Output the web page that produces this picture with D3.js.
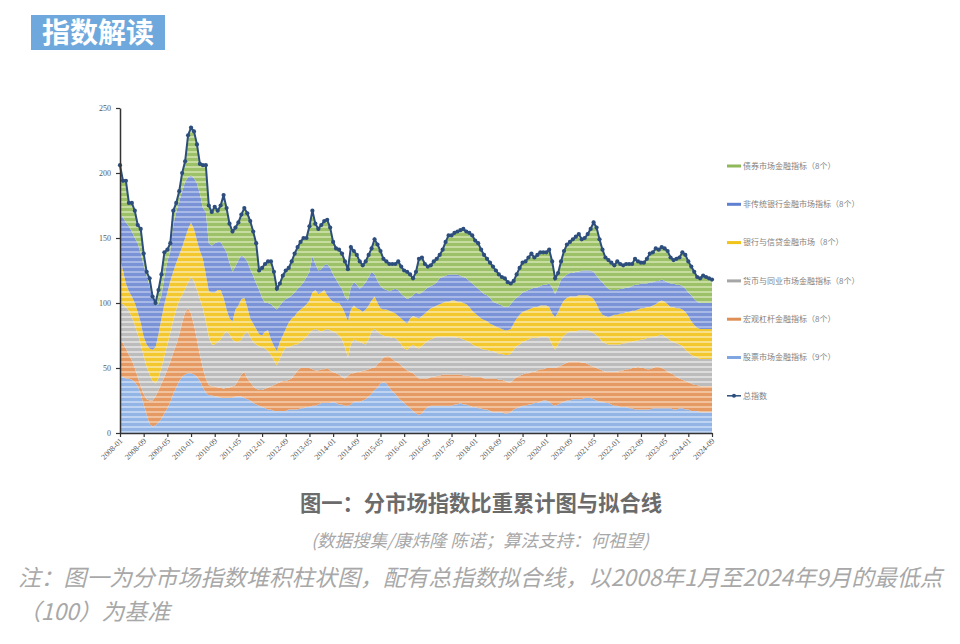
<!DOCTYPE html>
<html><head><meta charset="utf-8">
<script src="https://cdn.jsdelivr.net/npm/d3@7"></script>
<style>body{margin:0;background:#fff;} svg{display:block;}</style>
</head><body>
<svg id="c" width="960" height="644"></svg>
<script>
// ---- data (monthly, 2008-01 .. 2024-09) ----
const startYear = 2008;
const seriesKeys = ["stock", "macro", "money", "bank", "nonbank", "bond"]; // bottom -> top
const seriesNames = {
  bond: "债券市场金融指标（8个）",
  nonbank: "非传统银行金融市场指标（8个）",
  bank: "银行与信贷金融市场（8个）",
  money: "货币与同业市场金融指标（8个）",
  macro: "宏观杠杆金融指标（8个）",
  stock: "股票市场金融指标（9个）"
};
const totalName = "总指数";
const xTickLabels = ["2008-01","2008-09","2009-05","2010-01","2010-09","2011-05","2012-01","2012-09","2013-05","2014-01","2014-09","2015-05","2016-01","2016-09","2017-05","2018-01","2018-09","2019-05","2020-01","2020-09","2021-05","2022-01","2022-09","2023-05","2024-01","2024-09"];
const yTicks = [0, 50, 100, 150, 200, 250];

const stock = [43,43,42,42,41,39,36,30,22,14,
 7,5,6,8,11,15,19,24,30,35,
 40,43,45,46,46,45,43,40,35,31,
 29,29,28,28,27,27,27,27,27,28,
 28,28,27,26,25,23,22,21,20,19,
 18,18,17,17,17,17,17,18,18,18,
 18,19,19,20,20,21,21,22,23,23,
 23,23,24,23,22,22,21,21,22,24,
 24,24,25,26,28,30,33,35,38,39,
 38,35,32,30,27,25,23,21,19,17,
 15,14,15,18,20,21,21,21,21,21,
 21,21,21,22,22,23,22,22,21,20,
 20,19,19,18,18,17,16,16,16,16,
 15,15,16,18,19,20,21,21,22,22,
 23,23,24,25,25,24,22,21,22,23,
 24,25,25,26,26,26,26,27,27,27,
 26,25,24,24,23,23,22,21,21,20,
 20,20,19,19,18,18,18,18,18,18,
 19,19,19,19,19,19,19,18,18,19,
 19,18,18,17,17,17,16,16,16,16,
 16];
const macro = [29,26,23,18,15,11,7,6,8,12,
 18,20,22,25,27,28,30,31,32,33,
 36,42,48,50,46,38,29,20,15,11,
 8,7,8,7,8,7,8,8,9,9,
 13,17,20,16,14,13,12,12,13,15,
 17,18,20,21,22,23,23,23,24,27,
 30,31,31,30,30,28,27,26,26,26,
 27,25,23,23,23,21,21,23,24,22,
 23,23,23,22,21,20,17,18,17,19,
 21,24,25,25,27,27,27,27,28,29,
 29,28,27,24,22,22,22,23,23,24,
 24,24,24,23,23,22,22,22,23,23,
 23,24,24,24,24,25,26,26,25,25,
 25,24,23,23,24,24,24,25,24,25,
 24,25,25,24,25,26,28,29,29,29,
 29,29,30,29,29,29,28,27,26,25,
 25,25,25,24,24,24,25,26,26,28,
 28,29,30,31,32,33,32,32,31,31,
 31,32,32,31,30,28,27,27,25,23,
 22,22,21,21,20,20,20,20,20,20,
 20];
const money = [28,30,32,34,33,33,33,32,29,25,
 20,15,10,9,12,16,19,22,25,27,
 26,21,18,20,28,34,38,43,46,44,
 37,32,32,35,37,42,43,41,36,33,
 29,27,29,36,35,34,34,34,33,31,
 28,24,19,14,18,22,26,25,25,23,
 20,20,22,24,27,30,32,31,29,30,
 30,31,31,31,30,29,24,14,22,26,
 24,23,21,20,23,28,30,25,21,17,
 15,15,16,18,17,16,15,16,19,22,
 22,23,25,27,29,29,30,30,30,29,
 29,29,29,29,28,28,28,27,26,25,
 24,23,22,22,22,21,21,20,20,20,
 20,21,22,23,24,24,25,25,26,26,
 26,25,25,25,24,23,18,14,17,20,
 22,23,23,23,23,24,25,25,26,26,
 26,25,24,22,22,21,21,21,21,20,
 21,20,21,20,21,20,22,22,24,24,
 24,23,24,26,25,26,25,25,26,26,
 26,24,23,22,22,21,21,21,21,21,
 21];
const bank = [34,26,18,15,16,17,17,17,15,17,
 20,24,28,34,38,40,40,40,37,36,
 35,37,39,41,42,40,38,37,38,36,
 35,40,40,40,38,28,17,12,14,25,
 28,31,28,19,14,14,12,9,9,13,
 16,12,11,11,13,13,14,19,21,22,
 25,25,25,25,25,29,30,28,30,31,
 26,24,23,23,25,25,26,28,27,26,
 25,25,24,27,26,24,25,22,20,20,
 21,20,20,19,19,20,21,20,22,22,
 23,23,23,23,23,24,24,24,25,26,
 27,27,28,28,28,28,28,28,27,26,
 25,24,23,23,22,21,20,20,20,19,
 19,19,19,20,21,23,23,23,23,23,
 24,24,24,24,24,24,24,25,25,26,
 27,27,27,27,27,27,27,27,27,27,
 26,24,21,21,21,21,22,23,23,24,
 23,24,23,24,23,24,24,24,24,24,
 24,25,26,26,27,26,26,27,27,28,
 28,29,28,26,24,23,23,23,23,23,
 23];
const nonbank = [35,41,47,50,50,50,53,53,55,53,
 48,40,32,23,18,21,24,23,36,39,
 41,43,43,40,36,39,44,44,39,48,
 37,36,38,37,37,39,44,43,38,33,
 35,34,31,35,38,37,35,34,29,22,
 21,27,30,32,28,26,23,19,18,18,
 18,18,19,21,22,28,20,18,18,19,
 24,24,21,18,14,14,13,16,17,18,
 18,16,20,21,22,22,17,17,17,16,
 15,15,17,19,20,19,19,19,16,16,
 19,19,18,18,18,17,17,18,20,20,
 20,21,20,20,21,20,20,20,20,21,
 21,21,21,20,20,20,18,18,18,18,
 18,18,19,18,16,15,15,15,15,15,
 15,15,15,16,16,18,20,18,19,20,
 18,18,18,18,19,18,19,19,19,20,
 21,22,24,25,23,22,20,19,19,19,
 19,19,19,19,20,19,19,19,18,19,
 18,18,16,16,16,17,18,18,18,18,
 18,18,18,20,20,20,20,20,20,20,
 20];
const bond = [37,28,32,18,22,21,14,19,9,3,
 6,1,2,11,16,19,9,6,11,7,
 8,14,16,32,37,36,30,23,33,36,
 29,26,28,24,28,40,34,30,31,30,
 29,31,38,37,37,34,31,15,23,30,
 32,33,27,16,17,20,22,23,26,30,
 32,34,34,30,35,35,31,32,34,34,
 34,31,25,24,27,27,27,24,31,24,
 23,21,16,16,17,18,27,28,27,23,
 22,21,20,19,22,21,20,21,18,13,
 16,27,27,20,16,16,18,18,18,21,
 26,30,30,32,33,35,37,36,37,37,
 35,35,32,30,28,27,27,25,23,22,
 22,19,16,15,18,21,23,23,25,27,
 23,25,26,25,25,26,20,12,11,14,
 20,23,24,26,27,29,24,25,28,32,
 38,37,31,25,22,22,21,19,22,19,
 18,18,18,17,20,18,16,16,19,22,
 23,25,24,25,25,24,20,18,20,21,
 26,26,24,22,21,19,19,21,20,19,
 18];

const fills = {
  stock:   {base:"#93b5e6", light:"#bfd3f2", key:"#7fa6e0"},
  macro:   {base:"#e49a62", light:"#f2c29c", key:"#df8f55"},
  money:   {base:"#bcbcbc", light:"#dcdcdc", key:"#a6a6a6"},
  bank:    {base:"#f3c72e", light:"#f9e08a", key:"#f0c419"},
  nonbank: {base:"#7a92d6", light:"#a9b9e7", key:"#5f7fd0"},
  bond:    {base:"#9dc168", light:"#c6dd9f", key:"#8fb85a"}
};
const lineColor = "#2d4e7d";

// ---- build ----
const values = {stock, macro, money, bank, nonbank, bond};
const months = d3.range(stock.length).map(i => (startYear + Math.floor(i / 12)) + "-" + String(i % 12 + 1).padStart(2, "0"));
const rows = months.map((m, i) => { const r = {month: m}; seriesKeys.forEach(k => r[k] = values[k][i]); return r; });

const svg = d3.select("#c");
const x = d3.scalePoint().domain(months).range([120, 712]);
const y = d3.scaleLinear().domain([0, 250]).range([433, 108]);

const defs = svg.append("defs");
seriesKeys.forEach(k => {
  const p = defs.append("pattern").attr("id", "p-" + k).attr("patternUnits", "userSpaceOnUse")
    .attr("width", 10).attr("height", 5);
  p.append("rect").attr("width", 10).attr("height", 5).attr("fill", fills[k].base);
  p.append("rect").attr("y", 1).attr("width", 10).attr("height", 2).attr("fill", fills[k].light);
});

// header box
svg.append("rect").attr("x", 31).attr("y", 15).attr("width", 134).attr("height", 35).attr("fill", "#6fa8dc");
svg.append("text").attr("x", 98).attr("y", 43).attr("text-anchor", "middle")
  .attr("font-family", "'Noto Sans CJK SC', sans-serif").attr("font-weight", 700).attr("font-size", 28)
  .attr("fill", "#fff").text("指数解读");

const stacked = d3.stack().keys(seriesKeys)(rows);
const area = d3.area().x(d => x(d.data.month)).y0(d => y(d[0])).y1(d => y(d[1]));
svg.append("g").selectAll("path").data(stacked).join("path")
  .attr("d", area).attr("fill", d => "url(#p-" + d.key + ")");

// total line = top of stack
const topLayer = stacked[stacked.length - 1];
const line = d3.line().x(d => x(d.data.month)).y(d => y(d[1]));
svg.append("path").datum(topLayer).attr("d", line).attr("fill", "none")
  .attr("stroke", lineColor).attr("stroke-width", 2);
svg.append("g").selectAll("circle").data(topLayer).join("circle")
  .attr("cx", d => x(d.data.month)).attr("cy", d => y(d[1])).attr("r", 2.1).attr("fill", lineColor);

// axes
const yAx = svg.append("g").attr("transform", "translate(120,0)")
  .call(d3.axisLeft(y).tickValues(yTicks).tickSize(4).tickSizeOuter(0).tickPadding(5));
const xAx = svg.append("g").attr("transform", "translate(0,433)")
  .call(d3.axisBottom(x).tickValues(xTickLabels).tickSize(4).tickSizeOuter(0));
[yAx, xAx].forEach(g => {
  g.select(".domain").attr("stroke", "#333").attr("stroke-width", 1.5);
  g.selectAll(".tick line").attr("stroke", "#333").attr("stroke-width", 1.2);
  g.selectAll("text").attr("font-family", "'Liberation Serif', 'Times New Roman', serif")
    .attr("font-size", 8).attr("fill", "#595959");
});
xAx.selectAll("text").attr("x", -4).attr("y", 5).attr("dy", "0.35em")
  .attr("transform", "rotate(-45)").style("text-anchor", "end");

// legend
const legendOrder = ["bond", "nonbank", "bank", "money", "macro", "stock"];
const lg = svg.append("g").attr("font-family", "'Noto Sans CJK SC', sans-serif").attr("font-size", 8).attr("fill", "#7f7f7f");
legendOrder.forEach((k, i) => {
  const yy = 166 + i * 38.3;
  lg.append("rect").attr("x", 727).attr("y", yy - 1.5).attr("width", 14).attr("height", 3).attr("fill", fills[k].key);
  lg.append("text").attr("x", 743).attr("y", yy).attr("dy", "0.35em").text(seriesNames[k]);
});
{
  const yy = 166 + 6 * 38.3;
  lg.append("line").attr("x1", 727).attr("x2", 741).attr("y1", yy).attr("y2", yy).attr("stroke", lineColor).attr("stroke-width", 1.5);
  lg.append("circle").attr("cx", 734).attr("cy", yy).attr("r", 2).attr("fill", lineColor);
  lg.append("text").attr("x", 743).attr("y", yy).attr("dy", "0.35em").text(totalName);
}

// captions
svg.append("text").attr("x", 481).attr("y", 511).attr("text-anchor", "middle")
  .attr("font-family", "'Noto Sans CJK SC', sans-serif").attr("font-weight", 700).attr("font-size", 21.3)
  .attr("fill", "#6b6b6b").text("图一：分市场指数比重累计图与拟合线");
svg.append("text").attr("x", 480).attr("y", 547).attr("text-anchor", "middle")
  .attr("font-family", "'Noto Sans CJK SC', sans-serif").attr("font-style", "italic").attr("font-size", 17.5)
  .attr("fill", "#a8a8a8").text("(数据搜集/康炜隆 陈诺；算法支持：何祖望)");
const note = svg.append("g").attr("font-family", "'Noto Sans CJK SC', sans-serif").attr("font-style", "italic")
  .attr("font-size", 22.8).attr("fill", "#a8a8a8");
note.append("text").attr("x", 18).attr("y", 586).text("注：图一为分市场指数堆积柱状图，配有总指数拟合线，以2008年1月至2024年9月的最低点");
note.append("text").attr("x", 18).attr("y", 620).text("（100）为基准");
</script>
</body></html>
